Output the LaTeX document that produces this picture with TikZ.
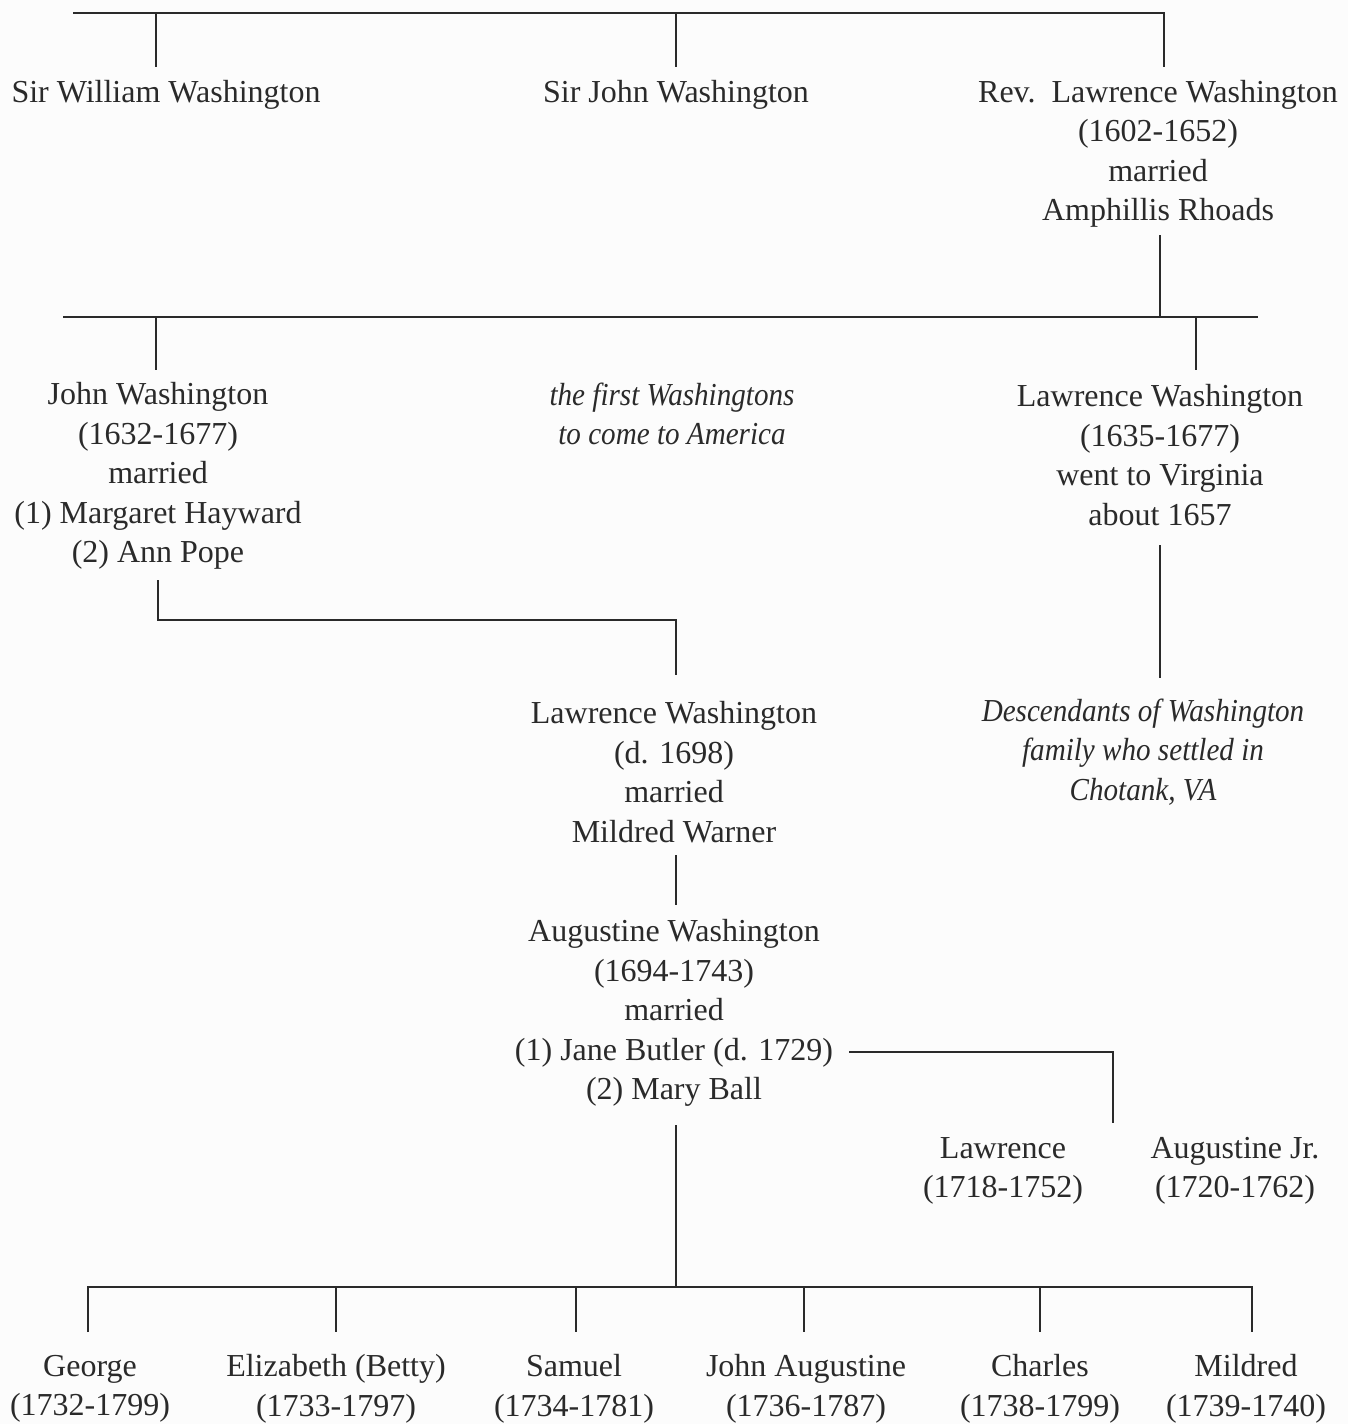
\documentclass[tikz,border=0pt]{standalone}
\usepackage{fontspec}
\setmainfont{Liberation Serif}[ItalicFeatures={FakeStretch=0.91}]
\definecolor{bg}{HTML}{FCFCFC}
\definecolor{ink}{HTML}{2A2A2A}
\begin{document}
\begin{tikzpicture}[x=0.5pt,y=-0.5pt,
  person/.style={align=center,inner sep=0pt,outer sep=0pt,text=ink,font=\fontsize{16}{19.75}\selectfont},
  note/.style={person,font=\fontsize{16}{19.75}\selectfont\itshape},
  link/.style={draw=ink,line width=1pt}]
\fill[bg] (0,0) rectangle (1348,1424);
\useasboundingbox (0,0) rectangle (1348,1424);
% nodes
\node[person] (sw) at (166,95) {Sir William Washington};
\node[person] (sj) at (676,95) {Sir John Washington};
\node[person] (rev) at (1158,154) {Rev.\ \ Lawrence Washington\\(1602-1652)\\married\\Amphillis Rhoads};
\node[person] (jw) at (158,476) {John Washington\\(1632-1677)\\married\\(1) Margaret Hayward\\(2) Ann Pope};
\node[note] (first) at (672,414) {the first Washingtons\\to come to America};
\node[person] (lw) at (1160,455) {Lawrence Washington\\(1635-1677)\\went to Virginia\\about 1657};
\node[note] (desc) at (1143,752) {Descendants of Washington\\family who settled in\\Chotank, VA};
\node[person] (lwd) at (674,772) {Lawrence Washington\\(d. 1698)\\married\\Mildred Warner};
\node[person] (aug) at (674,1013) {Augustine Washington\\(1694-1743)\\married\\(1) Jane Butler (d. 1729)\\(2) Mary Ball};
\node[person] (law) at (1003,1171) {Lawrence\\(1718-1752)};
\node[person] (augjr) at (1235,1171) {Augustine Jr.\\(1720-1762)};
\node[person] (george) at (90,1389) {George\\(1732-1799)};
\node[person] (betty) at (336,1389) {Elizabeth (Betty)\\(1733-1797)};
\node[person] (samuel) at (574,1389) {Samuel\\(1734-1781)};
\node[person] (johna) at (806,1389) {John Augustine\\(1736-1787)};
\node[person] (charles) at (1040,1389) {Charles\\(1738-1799)};
\node[person] (mildred) at (1246,1389) {Mildred\\(1739-1740)};
% coordinates
\coordinate (t0) at (73,13);
\coordinate (t1) at (156,13);
\coordinate (t2) at (676,13);
\coordinate (t3) at (1164,13);
\coordinate (swt) at (156,67);
\coordinate (sjt) at (676,67);
\coordinate (revt) at (1164,67);
\coordinate (revb) at (1160,235);
\coordinate (m0) at (63,317);
\coordinate (m1) at (156,317);
\coordinate (m2) at (1160,317);
\coordinate (m3) at (1196,317);
\coordinate (m4) at (1258,317);
\coordinate (jwt) at (156,370);
\coordinate (lwt) at (1196,370);
\coordinate (lwb) at (1160,545);
\coordinate (desct) at (1160,678);
\coordinate (jwb) at (158,580);
\coordinate (jwc) at (158,620);
\coordinate (lwdc) at (676,620);
\coordinate (lwdt) at (676,675);
\coordinate (lwdb) at (676,855);
\coordinate (augt) at (676,905);
\coordinate (augr) at (849,1052);
\coordinate (sidec) at (1113,1052);
\coordinate (sideb) at (1113,1123);
\coordinate (augb) at (676,1125);
\coordinate (bj) at (676,1287);
\coordinate (b1) at (88,1287);
\coordinate (b2) at (336,1287);
\coordinate (b3) at (576,1287);
\coordinate (b4) at (804,1287);
\coordinate (b5) at (1040,1287);
\coordinate (b6) at (1252,1287);
% connectors
\draw[link] (t0) -- (t3) -- (revt);
\draw[link] (t1) -- (swt);
\draw[link] (t2) -- (sjt);
\draw[link] (revb) -- (m2);
\draw[link] (m0) -- (m4);
\draw[link] (m1) -- (jwt);
\draw[link] (m3) -- (lwt);
\draw[link] (lwb) -- (desct);
\draw[link] (jwb) -- (jwc) -- (lwdc) -- (lwdt);
\draw[link] (lwdb) -- (augt);
\draw[link] (augr) -- (sidec) -- (sideb);
\draw[link] (augb) -- (bj);
\draw[link] (b1 |- 0,1332) -- (b1) -- (b6) -- (b6 |- 0,1332);
\foreach \c in {b2,b3,b4,b5} \draw[link] (\c) -- (\c |- 0,1332);
\end{tikzpicture}
\end{document}
